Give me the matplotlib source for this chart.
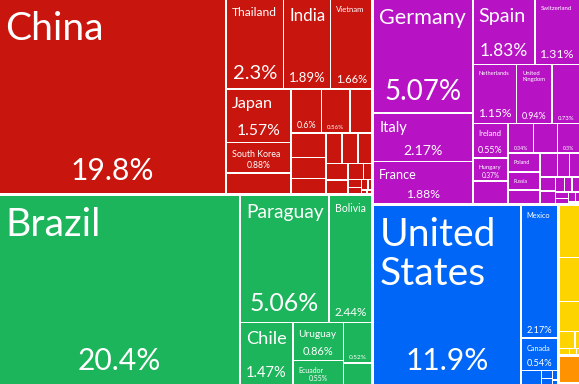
import matplotlib
matplotlib.use('Agg')
import matplotlib.pyplot as plt
from matplotlib.patches import Rectangle
from matplotlib.textpath import TextPath
from matplotlib.font_manager import FontProperties

# export shares in % (None = no label, '' = percent only)
asia_names = ['China', 'Thailand', 'India', 'Vietnam', 'Japan', 'South Korea', None, '', '']
asia_values = [19.8, 2.3, 1.89, 1.66, 1.57, 0.88, 0.62, 0.6, 0.56, 0.44, 0.38, 0.33, 0.24,
               0.22, 0.22, 0.19, 0.16, 0.14, 0.11, 0.06, 0.05, 0.04, 0.03, 0.02, 0.01, 0.01]

samerica_names = ['Brazil', 'Paraguay', 'Bolivia', 'Chile', 'Uruguay', 'Ecuador', '']
samerica_values = [20.4, 5.06, 2.44, 1.47, 0.86, 0.55, 0.52, 0.28]

europe_names = ['Germany', 'Italy', 'France', 'Spain', 'Switzerland', 'Netherlands',
                'United Kingdom', '', 'Ireland', 'Hungary', None, '', None, '', 'Poland', 'Russia']
europe_values = [5.07, 2.17, 1.88, 1.83, 1.31, 1.15, 0.94, 0.73, 0.55, 0.37, 0.36, 0.34, 0.32,
                 0.3, 0.27, 0.25, 0.2, 0.19, 0.13, 0.11, 0.1, 0.09, 0.06, 0.05, 0.05, 0.04,
                 0.03, 0.03, 0.02, 0.01]

namerica_names = ['United States', 'Mexico', 'Canada']
namerica_values = [11.9, 2.17, 0.54, 0.13, 0.04, 0.03, 0.02, 0.01]

africa_names = []
africa_values = [0.52, 0.44, 0.3, 0.13, 0.04, 0.03, 0.02, 0.01]

oceania_names = []
oceania_values = [0.28, 0.02]

continents = [
    (asia_names, asia_values, '#C8150E'),
    (samerica_names, samerica_values, '#1CB55B'),
    (europe_names, europe_values, '#B713C5'),
    (namerica_names, namerica_values, '#0066F8'),
    (africa_names, africa_values, '#FDD400'),
    (oceania_names, oceania_values, '#FE9200'),
]

W, H = 579, 384
PHI = (1 + 5 ** 0.5) / 2
FONT = 'Lato'
FP = FontProperties(family=FONT)


def squarify(values, x0, y0, x1, y1):
    # port of d3.treemapSquarify (golden ratio), values sorted descending
    rects = []
    total = sum(values)
    i0, n = 0, len(values)
    while i0 < n:
        dx, dy = x1 - x0, y1 - y0
        s = vmin = vmax = values[i0]
        alpha = max(dy / dx, dx / dy) / (total * PHI)
        beta = s * s * alpha
        best = max(vmax / beta, beta / vmin)
        i1 = i0 + 1
        while i1 < n:
            v = values[i1]
            s2 = s + v
            beta = s2 * s2 * alpha
            r = max(max(vmax, v) / beta, beta / min(vmin, v))
            if r > best:
                break
            s, best = s2, r
            vmin, vmax = min(vmin, v), max(vmax, v)
            i1 += 1
        row = values[i0:i1]
        if dx < dy:
            yb = y0 + dy * s / total
            x = x0
            for v in row:
                xn = x + dx * v / s
                rects.append((x, y0, xn, yb))
                x = xn
            y0 = yb
        else:
            xb = x0 + dx * s / total
            y = y0
            for v in row:
                yn = y + dy * v / s
                rects.append((x0, y, xb, yn))
                y = yn
            x0 = xb
        total -= s
        i0 = i1
    return rects


def tile(values, box, gap):
    p = gap / 2
    x0, y0, x1, y1 = box
    rects = squarify(values, x0 - p, y0 - p, x1 + p, y1 + p)
    return [(a + p, b + p, c - p, d - p) for a, b, c, d in rects]


def width_per_px(s):
    return TextPath((0, 0), s, size=100, prop=FP).get_extents().width / 100


fig = plt.figure(figsize=(W / 100, H / 100), dpi=100)
ax = fig.add_axes([0, 0, 1, 1])
ax.set_xlim(0, W)
ax.set_ylim(H, 0)
ax.axis('off')

PX = 72 / 100  # px -> pt


def label(name, value, r):
    x0, y0, x1, y1 = r
    w, h = x1 - x0, y1 - y0
    if name:
        options = [name]
        if ' ' in name:
            options.append(name.replace(' ', '\n'))
        best = None
        for opt in options:
            lw = max(width_per_px(line) for line in opt.split('\n'))
            f = min(39, (w - 12) / lw, 0.31 * h)
            if best is None or f > best[0] + 0.5:
                best = (f, opt)
        f, txt = best
        ax.text(x0 + 5, y0 + 5 + 0.15 * f, txt, fontsize=f * PX, color='white',
                ha='left', va='top', linespacing=1.1, family=FONT)
    if name is not None and h >= 21:
        pct = f'{value:.3g}%'
        pad = max(5, 0.12 * w)
        f = min(30, (w - 2 * pad) / width_per_px(pct), 0.3 * h)
        ax.text((x0 + x1) / 2, y1 - 0.45 * f, pct, fontsize=f * PX, color='white',
                ha='center', va='baseline', family=FONT)


order = sorted(continents, key=lambda c: -sum(c[1]))
boxes = tile([sum(c[1]) for c in order], (0, 0, W, H), 3)
for (names, values, color), box in zip(order, boxes):
    for i, r in enumerate(tile(values, box, 1.5)):
        ax.add_patch(Rectangle((r[0], r[1]), r[2] - r[0], r[3] - r[1],
                               facecolor=color, edgecolor='none'))
        name = names[i] if i < len(names) else None
        label(name, values[i], r)

fig.savefig('out.png', dpi=100, facecolor='white')
